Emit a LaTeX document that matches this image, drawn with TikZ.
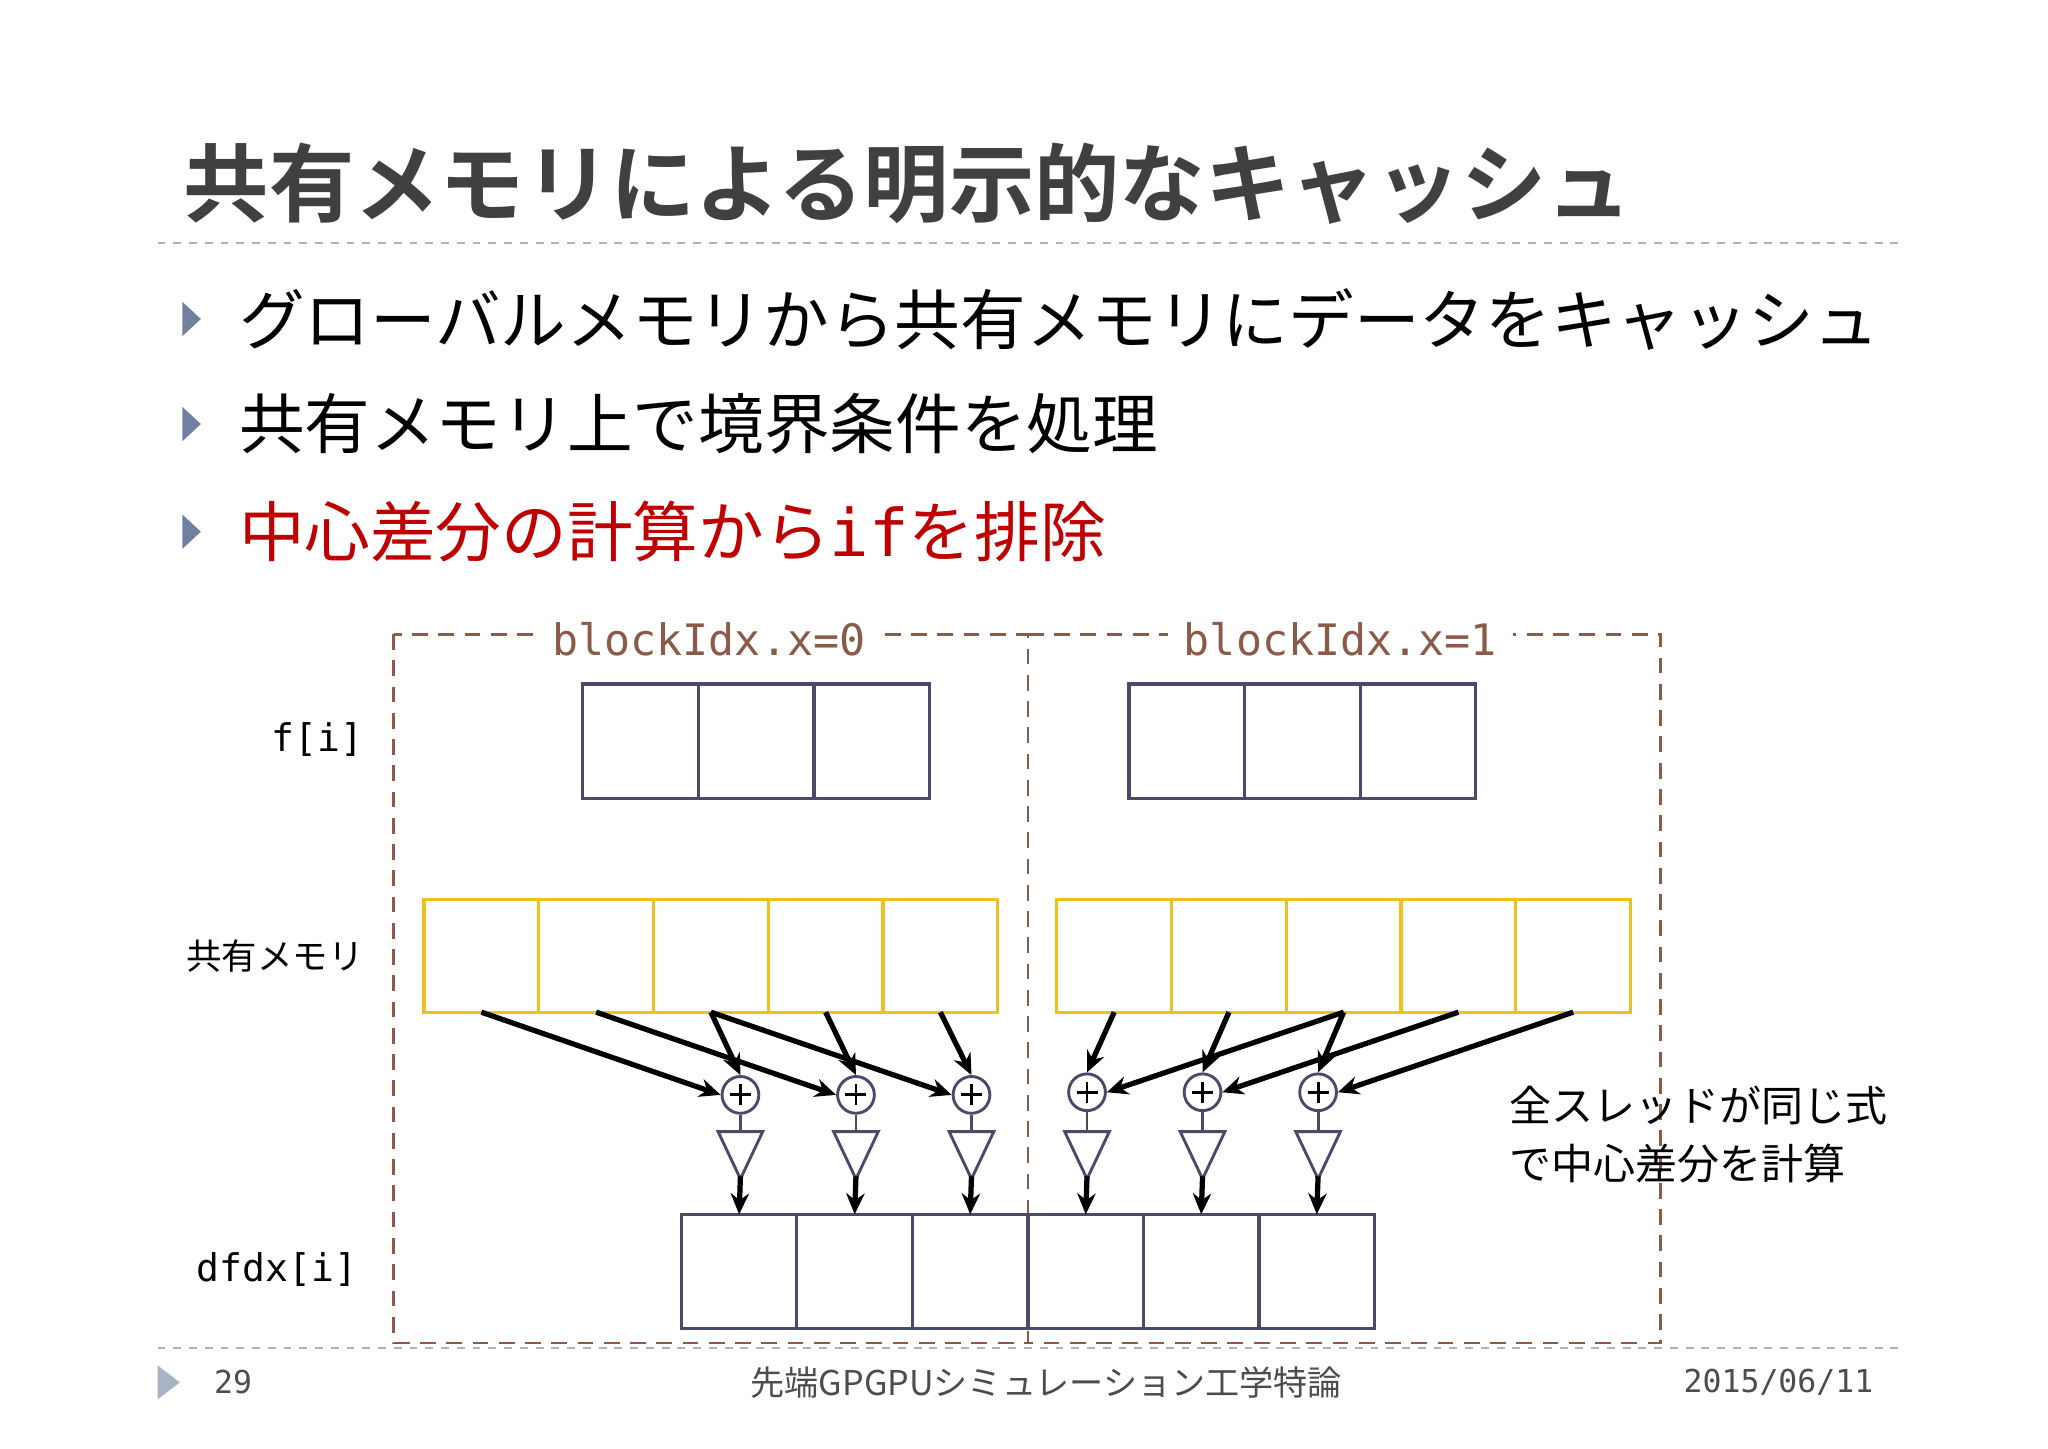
\documentclass[tikz,border=0pt]{standalone}
\usepackage{fontspec}
\setmainfont{Noto Sans CJK JP}
\newfontfamily\jp{Noto Sans CJK JP}
\newfontfamily\jpb{Noto Sans CJK JP Bold}
\newfontfamily\mono{DejaVu Sans Mono}
\usetikzlibrary{arrows.meta}
\definecolor{boxc}{HTML}{4A4A6A}
\definecolor{yel}{HTML}{F0C020}
\definecolor{brn}{HTML}{8B5A48}
\definecolor{sep}{HTML}{A8B4C4}
\definecolor{redt}{HTML}{C00000}
\definecolor{tri}{HTML}{7080A0}
\begin{document}
\begin{tikzpicture}[x=0.5pt,y=-0.5pt,
  fbox/.style={draw=boxc,line width=1.2pt,minimum width=44pt,minimum height=43.5pt,inner sep=0,outer sep=0},
  shbox/.style={draw=yel,line width=1.2pt,minimum width=43.7pt,minimum height=43pt,inner sep=0,outer sep=0},
  plusc/.style={circle,draw=boxc,line width=1.1pt,minimum size=14pt,inner sep=0},
  arr/.style={-{Stealth[length=8pt,width=7pt]},line width=2pt},
  blk/.style={draw=brn,line width=1.1pt,dash pattern=on 6pt off 4pt},
  lab/.style={font=\mono\fontsize{14.5}{16}\selectfont,anchor=east}]
\useasboundingbox (0,0) rectangle (1560,1103);
% title
\node[anchor=west,text=black!75,font=\jpb\fontsize{32.5}{36}\selectfont] (title) at (133,140) {共有メモリによる明示的なキャッシュ};
\draw[sep,dashed,line width=0.6pt] (120,185) -- (1448,185);
% bullets
\foreach \y in {243,323,405}
  \fill[tri] (139,\y-13) -- (153,\y) -- (139,\y+13) -- cycle;
\node[anchor=west,font=\jp\fontsize{25}{30}\selectfont] (b1) at (175,243) {グローバルメモリから共有メモリにデータをキャッシュ};
\node[anchor=west,font=\jp\fontsize{25}{30}\selectfont] (b2) at (175,323) {共有メモリ上で境界条件を処理};
\node[anchor=west,text=redt,font=\jp\fontsize{25}{30}\selectfont] (b3) at (175,405) {中心差分の計算から{\mono if}を排除};
% blocks
\draw[blk] (300,483) rectangle (783,1023);
\draw[blk] (783,483) -- (1265,483) -- (1265,1023) -- (783,1023);
\node[fill=white,text=brn,font=\mono\fontsize{16.5}{18}\selectfont,inner xsep=6pt] (l0) at (540,487) {blockIdx.x=0};
\node[fill=white,text=brn,font=\mono\fontsize{16.5}{18}\selectfont,inner xsep=6pt] (l1) at (1021,487) {blockIdx.x=1};
% row labels
\node[lab] (lf) at (284,563) {f[i]};
\node[anchor=east,font=\jp\fontsize{13.5}{16}\selectfont] (ls) at (284,728) {共有メモリ};
\node[lab] (ld) at (279,967) {dfdx[i]};
% f cells
\foreach \i in {0,1,2}{
  \node[fbox] (fa\i) at (488+88*\i,564.5) {};
  \node[fbox] (fb\i) at (904+88*\i,564.5) {};
}
% shared cells
\foreach \i in {0,...,4}{
  \node[shbox] (sa\i) at (366.7+87.4*\i,728) {};
  \node[shbox] (sb\i) at (848.7+87.4*\i,728) {};
}
% dfdx cells
\foreach \i in {0,...,5}
  \node[fbox] (d\i) at (563+88*\i,968.5) {};
% plus circles and triangles
\foreach \i/\x/\y in {0/564/834,1/652/834,2/740/834,3/828/832,4/916/832,5/1004/832}{
  \node[plusc] (p\i) at (\x,\y) {};
  \draw[line width=1.1pt] (\x-8,\y) -- (\x+8,\y) (\x,\y-8) -- (\x,\y+8);
  \draw[boxc,line width=1.1pt] (p\i.south) -- (\x,862);
  \draw[boxc,line width=1.1pt,fill=white] (\x-17,862) -- (\x+17,862) -- (\x,898) -- cycle;
  \coordinate (t\i) at (\x,896);
  \draw[arr] (t\i) -- (d\i.north);
}
% left block arrows
\foreach \i/\j in {0/2,1/3,2/4}{
  \draw[arr] (sa\i.south) -- (p\i.west);
  \draw[arr] (sa\j.south) -- (p\i.north);
}
% right block arrows
\foreach \i/\j/\k in {3/0/2,4/1/3,5/2/4}{
  \draw[arr] (sb\j.south) -- (p\i.north);
  \draw[arr] (sb\k.south) -- (p\i.east);
}
% side text
\node[anchor=north west,align=left,font=\jp\fontsize{16}{22}\selectfont] (note) at (1143,820) {全スレッドが同じ式\\で中心差分を計算};
% footer
\draw[sep,dashed,line width=0.6pt] (120,1027) -- (1448,1027);
\fill[sep] (120,1040) -- (137,1053) -- (120,1066) -- cycle;
\node[anchor=west,text=black!70,font=\mono\fontsize{12}{14}\selectfont] (pg) at (156,1053) {29};
\node[text=black!70,font=\jp\fontsize{13}{15}\selectfont] (ft) at (797,1053) {先端GPGPUシミュレーション工学特論};
\node[anchor=east,text=black!70,font=\mono\fontsize{12}{14}\selectfont] (dt) at (1434,1053) {2015/06/11};
\end{tikzpicture}
\end{document}
